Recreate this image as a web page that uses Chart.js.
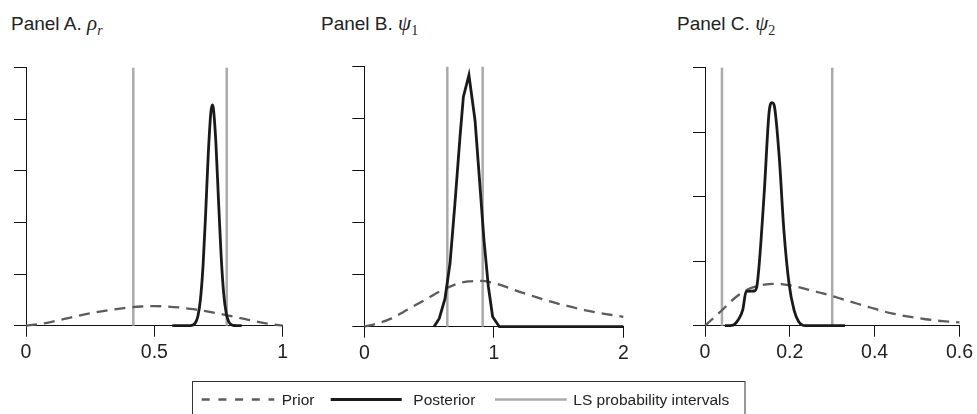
<!DOCTYPE html>
<html lang="en">
<head>
<meta charset="UTF-8">
<title>Prior and posterior densities</title>
<script src="https://cdn.jsdelivr.net/npm/chart.js@4.4.1/dist/chart.umd.min.js"></script>
<style>
  html, body { margin: 0; padding: 0; background: #fff; }
  body { width: 977px; height: 414px; position: relative; overflow: hidden; font-family: "Liberation Sans", Arial, sans-serif; }
  canvas { position: absolute; top: 55px; }
  .title { position: absolute; top: 13px; font-size: 19px; line-height: 20px; color: #222; white-space: nowrap; }
  .sym { font-family: "Liberation Serif", "DejaVu Serif", serif; font-style: italic; font-size: 21px; }
  .sym sub { font-size: 14px; vertical-align: -5px; line-height: 0; }
  .sym sub.up { font-style: normal; }
  #legend { position: absolute; left: 0; top: 0; }
</style>
</head>
<body>
<div class="title" style="left:11px">Panel A. <span class="sym">ρ<sub>r</sub></span></div>
<div class="title" style="left:321px">Panel B. <span class="sym">ψ<sub class="up">1</sub></span></div>
<div class="title" style="left:677px">Panel C. <span class="sym">ψ<sub class="up">2</sub></span></div>

<canvas id="panelA" width="300" height="320" style="left:0px"></canvas>
<canvas id="panelB" width="310" height="320" style="left:330px"></canvas>
<canvas id="panelC" width="307" height="320" style="left:670px"></canvas>

<svg id="legend" width="977" height="414" font-family="Liberation Sans, Arial, sans-serif" font-size="15.5" fill="#222">
  <rect x="192.5" y="381.5" width="552.5" height="40" fill="none" stroke="#333" stroke-width="1"/>
  <line x1="201.7" y1="399.5" x2="274.3" y2="399.5" stroke="#5c5c5c" stroke-width="2.3" stroke-dasharray="8 8.7"/>
  <text x="281.7" y="405">Prior</text>
  <line x1="330.7" y1="399.5" x2="401.7" y2="399.5" stroke="#1a1a1a" stroke-width="2.8"/>
  <text x="413.3" y="405">Posterior</text>
  <line x1="495" y1="399.5" x2="566.7" y2="399.5" stroke="#aaaaaa" stroke-width="2.5"/>
  <text x="573.3" y="405">LS probability intervals</text>
</svg>

<script>
// Panel A: rho_r
const xPriorA = [0, 0.05, 0.1, 0.15, 0.2, 0.25, 0.3, 0.35, 0.4, 0.45, 0.5, 0.55, 0.6, 0.65, 0.7, 0.75, 0.8, 0.85, 0.9, 0.95, 1];
const yPriorA = [0, 0.15, 0.38, 0.65, 0.94, 1.2, 1.42, 1.6, 1.76, 1.86, 1.9, 1.86, 1.76, 1.6, 1.42, 1.18, 0.92, 0.66, 0.4, 0.17, 0];
const xPostA = [0.57, 0.64, 0.65, 0.66, 0.67, 0.68, 0.69, 0.70, 0.71, 0.72, 0.726, 0.73, 0.74, 0.75, 0.76, 0.77, 0.78, 0.79, 0.80, 0.81, 0.84];
const yPostA = [0, 0.01, 0.07, 0.29, 0.97, 2.65, 5.95, 10.97, 16.6, 20.65, 21.4, 21.06, 17.6, 12.1, 6.84, 3.16, 1.2, 0.38, 0.1, 0.02, 0];
const lsA = [0.418, 0.782];
const xTicksA = [0, 0.5, 1];
const yTicksA = [0, 5, 10, 15, 20, 25];

// Panel B: psi_1
const xPriorB = [0, 0.1, 0.2, 0.3, 0.4, 0.5, 0.6, 0.7, 0.8, 0.9, 1.0, 1.1, 1.2, 1.3, 1.4, 1.5, 1.6, 1.7, 1.8, 1.9, 2.0];
const yPriorB = [0, 0.06, 0.15, 0.28, 0.42, 0.56, 0.7, 0.81, 0.87, 0.88, 0.84, 0.76, 0.67, 0.59, 0.51, 0.44, 0.38, 0.32, 0.27, 0.23, 0.19];
const xPostB = [0.538, 0.579, 0.623, 0.662, 0.70, 0.739, 0.765, 0.808, 0.855, 0.888, 0.924, 0.958, 0.991, 1.043, 2.0];
const yPostB = [0, 0.16, 0.54, 1.22, 2.37, 3.65, 4.42, 4.84, 3.97, 2.88, 1.67, 0.77, 0.19, 0, 0];
const lsB = [0.641, 0.914];
const xTicksB = [0, 1, 2];
const yTicksB = [0, 1, 2, 3, 4, 5];

// Panel C: psi_2
const xPriorC = [0, 0.02, 0.04, 0.06, 0.08, 0.1, 0.12, 0.14, 0.16, 0.18, 0.2, 0.22, 0.24, 0.26, 0.28, 0.3, 0.32, 0.34, 0.36, 0.38, 0.4, 0.42, 0.44, 0.46, 0.48, 0.5, 0.52, 0.54, 0.56, 0.58, 0.6];
const yPriorC = [0, 0.6, 1.2, 1.85, 2.4, 2.8, 3.05, 3.18, 3.24, 3.22, 3.13, 3.0, 2.82, 2.65, 2.48, 2.3, 2.1, 1.9, 1.7, 1.5, 1.32, 1.12, 0.96, 0.82, 0.7, 0.6, 0.5, 0.42, 0.35, 0.3, 0.26];
const xPostC = [0.047, 0.066, 0.078, 0.089, 0.097, 0.116, 0.122, 0.128, 0.14, 0.151, 0.158, 0.163, 0.175, 0.186, 0.198, 0.21, 0.221, 0.237, 0.33];
const yPostC = [0, 0.05, 0.44, 1.22, 2.66, 2.69, 3.0, 4.84, 10.5, 16.5, 17.3, 17.1, 13.1, 7.4, 3.3, 1.2, 0.31, 0, 0];
const lsC = [0.04, 0.30];
const xTicksC = [0, 0.2, 0.4, 0.6];
const yTicksC = [0, 5, 10, 15, 20];

const FONT = '"Liberation Sans", Arial, sans-serif';

function pts(xs, ys) {
    return xs.map((x, i) => ({ x: x, y: ys[i] }));
}

function drawPanel(id, p) {
    const yMax = p.yTicks[p.yTicks.length - 1];
    const datasets = [
        { data: pts(p.xPost, p.yPost), borderColor: '#1a1a1a', borderWidth: 2.8, order: 1,
          cubicInterpolationMode: p.smoothPost ? 'monotone' : 'default' },
        { data: pts(p.xPrior, p.yPrior), borderColor: '#5c5c5c', borderWidth: 2.3, borderDash: [11, 7], order: 2,
          cubicInterpolationMode: 'monotone' }
    ];
    p.ls.forEach(x => {
        datasets.push({ data: [{ x: x, y: 0 }, { x: x, y: yMax }], borderColor: '#aaaaaa', borderWidth: 2.5, order: 3 });
    });

    new Chart(document.getElementById(id), {
        type: 'line',
        data: {
            datasets: datasets.map(d => Object.assign({
                pointRadius: 0, fill: false, tension: 0, clip: false, borderCapStyle: 'butt'
            }, d))
        },
        options: {
            responsive: false,
            animation: false,
            events: [],
            layout: { padding: p.pad },
            plugins: { legend: { display: false }, tooltip: { enabled: false } },
            scales: {
                x: {
                    type: 'linear',
                    min: p.xTicks[0],
                    max: p.xTicks[p.xTicks.length - 1],
                    afterBuildTicks: s => { s.ticks = p.xTicks.map(v => ({ value: v })); },
                    afterFit: s => { s.height = 44; },
                    grid: { drawOnChartArea: false, color: '#111', tickLength: 11, lineWidth: 1 },
                    border: { color: '#111', width: 1 },
                    ticks: {
                        color: '#222', padding: 4, maxRotation: 0, autoSkip: false,
                        font: { family: FONT, size: 19.5 },
                        callback: v => String(v)
                    }
                },
                y: {
                    type: 'linear',
                    min: 0,
                    max: yMax,
                    afterBuildTicks: s => { s.ticks = p.yTicks.map(v => ({ value: v })); },
                    afterFit: s => { s.width = 12; },
                    grid: { drawOnChartArea: false, color: '#111', tickLength: 12, lineWidth: 1 },
                    border: { color: '#111', width: 1 },
                    ticks: { display: false }
                }
            }
        }
    });
}

drawPanel('panelA', {
    xPrior: xPriorA, yPrior: yPriorA, xPost: xPostA, yPost: yPostA, ls: lsA,
    xTicks: xTicksA, yTicks: yTicksA, smoothPost: true,
    pad: { left: 14, right: 17.3, top: 12.7, bottom: 5.3 }
});
drawPanel('panelB', {
    xPrior: xPriorB, yPrior: yPriorB, xPost: xPostB, yPost: yPostB, ls: lsB,
    xTicks: xTicksB, yTicks: yTicksB, smoothPost: false,
    pad: { left: 22.3, right: 16.7, top: 11.7, bottom: 4.3 }
});
drawPanel('panelC', {
    xPrior: xPriorC, yPrior: yPriorC, xPost: xPostC, yPost: yPostC, ls: lsC,
    xTicks: xTicksC, yTicks: yTicksC, smoothPost: true,
    pad: { left: 23, right: 14.3, top: 12.7, bottom: 5.3 }
});
</script>
</body>
</html>
